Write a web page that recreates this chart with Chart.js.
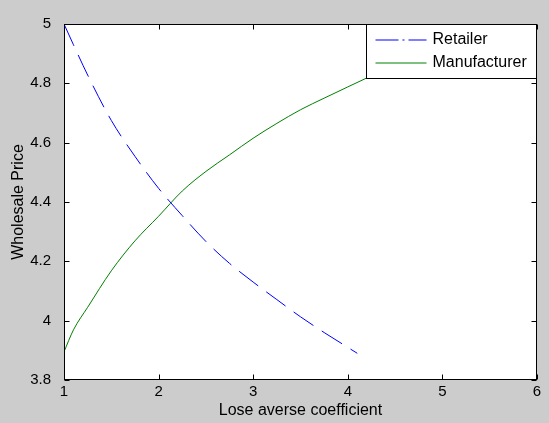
<!DOCTYPE html>
<html>
<head>
<meta charset="utf-8">
<script src="https://cdn.jsdelivr.net/npm/chart.js@4.4.1/dist/chart.umd.min.js"></script>
<style>
  html, body { margin: 0; padding: 0; background: #cccccc; }
  #wrap { width: 549px; height: 423px; }
</style>
</head>
<body>
<div id="wrap"><canvas id="myChart" width="549" height="423"></canvas></div>
<script>
// Values
const retailerX = [1, 1.1, 1.25, 1.5, 1.75, 2, 2.25, 2.5, 2.75, 3, 3.25, 3.5, 3.75, 4, 4.1];
const retailerY = [5.0, 4.93, 4.828, 4.675, 4.554, 4.446, 4.354, 4.267, 4.193, 4.130, 4.071, 4.013, 3.960, 3.910, 3.890];
const manufacturerX = [1, 1.1, 1.25, 1.5, 1.75, 2, 2.25, 2.5, 2.75, 3, 3.25, 3.5, 3.75, 4, 4.2];
const manufacturerY = [3.895, 3.969, 4.045, 4.168, 4.269, 4.352, 4.437, 4.503, 4.559, 4.615, 4.665, 4.711, 4.750, 4.788, 4.818];
const xTicks = [1, 2, 3, 4, 5, 6];
const yTicks = [3.8, 4, 4.2, 4.4, 4.6, 4.8, 5];
const seriesNames = ['Retailer', 'Manufacturer'];

const FONT = '"Liberation Sans", Arial, sans-serif';

// Build point lists for Chart.js
const toPoints = (xs, ys) => xs.map((v, i) => ({ x: v, y: ys[i] }));

// MATLAB style: grey figure, white axes, boxed frame, inward ticks, boxed legend
const matlabFrame = {
    id: 'matlabFrame',
    beforeDraw(chart) {
        const { ctx, chartArea: a } = chart;
        ctx.save();
        ctx.fillStyle = '#cccccc';
        ctx.fillRect(0, 0, chart.width, chart.height);
        ctx.fillStyle = '#ffffff';
        ctx.fillRect(a.left, a.top, a.right - a.left, a.bottom - a.top);
        ctx.restore();
    },
    afterDraw(chart) {
        const { ctx, chartArea: a, scales } = chart;
        const L = Math.round(a.left) + 0.5, R = Math.round(a.right) - 0.5;
        const T = Math.round(a.top) + 0.5, B = Math.round(a.bottom) - 0.5;
        const tick = 5;
        ctx.save();
        ctx.strokeStyle = '#000000';
        ctx.lineWidth = 1;
        ctx.beginPath();
        xTicks.forEach(v => {
            const px = Math.round(scales.x.getPixelForValue(v)) + 0.5;
            ctx.moveTo(px, B); ctx.lineTo(px, B - tick);
            ctx.moveTo(px, T); ctx.lineTo(px, T + tick);
        });
        yTicks.forEach(v => {
            const py = Math.round(scales.y.getPixelForValue(v)) + 0.5;
            ctx.moveTo(L, py); ctx.lineTo(L + tick, py);
            ctx.moveTo(R, py); ctx.lineTo(R - tick, py);
        });
        ctx.stroke();
        ctx.strokeRect(L, T, R - L, B - T);

        // legend box in the upper right corner
        const lw = 170, lh = 54;
        const lx = R - lw, ly = T;
        ctx.fillStyle = '#ffffff';
        ctx.fillRect(lx, ly, lw, lh);
        ctx.strokeRect(lx, ly, lw, lh);
        ctx.font = '16px ' + FONT;
        ctx.fillStyle = '#000000';
        ctx.textBaseline = 'middle';
        const rows = [
            { color: '#0000ff', dash: [23, 4, 2, 4] },
            { color: '#008000', dash: [] }
        ];
        rows.forEach((r, i) => {
            const yy = ly + 15.5 + i * 23;
            ctx.strokeStyle = r.color;
            ctx.setLineDash(r.dash);
            ctx.beginPath();
            ctx.moveTo(lx + 9, yy);
            ctx.lineTo(lx + 60, yy);
            ctx.stroke();
            ctx.fillText(seriesNames[i], lx + 66, yy);
        });
        ctx.restore();
    }
};

document.addEventListener('DOMContentLoaded', function () {
    const ctx = document.getElementById('myChart').getContext('2d');
    new Chart(ctx, {
        type: 'line',
        data: {
            datasets: [{
                label: seriesNames[0],
                data: toPoints(retailerX, retailerY),
                borderColor: '#0000ff',
                borderWidth: 1,
                borderDash: [24, 10],
                pointRadius: 0,
                cubicInterpolationMode: 'monotone',
                fill: false
            }, {
                label: seriesNames[1],
                data: toPoints(manufacturerX, manufacturerY),
                borderColor: '#008000',
                borderWidth: 1,
                pointRadius: 0,
                cubicInterpolationMode: 'monotone',
                fill: false
            }]
        },
        options: {
            responsive: false,
            animation: false,
            layout: { padding: { top: 24, right: 12, left: 0, bottom: 0 } },
            plugins: {
                legend: { display: false },
                tooltip: { enabled: false }
            },
            scales: {
                x: {
                    type: 'linear',
                    min: 1,
                    max: 6,
                    afterBuildTicks: s => { s.ticks = xTicks.map(v => ({ value: v })); },
                    afterFit: s => { s.height = 43; },
                    grid: { display: false },
                    border: { display: false },
                    ticks: {
                        color: '#000000',
                        padding: -5,
                        maxRotation: 0,
                        font: { family: FONT, size: 15 },
                        callback: v => String(v)
                    },
                    title: {
                        display: true,
                        text: 'Lose averse coefficient',
                        color: '#000000',
                        font: { family: FONT, size: 16 },
                        padding: { top: 0, bottom: 3 }
                    }
                },
                y: {
                    type: 'linear',
                    min: 3.8,
                    max: 5,
                    afterBuildTicks: s => { s.ticks = yTicks.map(v => ({ value: v })); },
                    afterFit: s => { s.width = 64; },
                    grid: { display: false },
                    border: { display: false },
                    ticks: {
                        color: '#000000',
                        padding: 5,
                        font: { family: FONT, size: 15 },
                        callback: v => String(v)
                    },
                    title: {
                        display: true,
                        text: 'Wholesale Price',
                        color: '#000000',
                        font: { family: FONT, size: 16 },
                        padding: { top: 9, bottom: 0 }
                    }
                }
            }
        },
        plugins: [matlabFrame]
    });
});
</script>
</body>
</html>
